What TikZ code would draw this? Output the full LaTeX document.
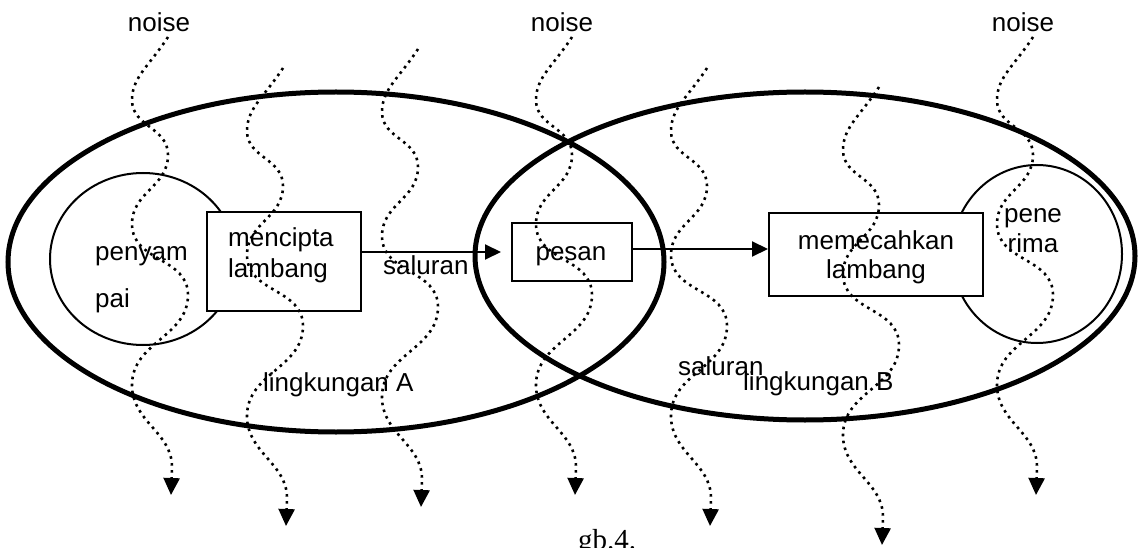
\documentclass[tikz,border=0pt]{standalone}
\usepackage{fontspec}
\setmainfont{Liberation Sans}
\newfontfamily\gbfont{Liberation Serif}
\usetikzlibrary{arrows.meta,shapes.geometric}
\begin{document}
\begin{tikzpicture}[x=1pt,y=-1pt,
  env/.style={draw, ellipse, line width=5pt, inner sep=0pt, outer sep=0pt},
  person/.style={draw, ellipse, line width=2pt, inner sep=0pt, outer sep=0pt},
  stepbox/.style={draw, fill=white, rectangle, line width=2pt, inner sep=0pt},
  lbl/.style={font=\fontsize{26}{30}\selectfont, inner sep=0pt},
  flow/.style={line width=2pt, -{Triangle[length=16pt,width=15pt]}},
  dotline/.style={line width=2.6pt, dash pattern=on 2.6pt off 4.4pt, -{Triangle[length=17pt,width=16pt]}},
  noisewave/.pic={
    \draw[dotline] (0,0) .. controls (-18,28) and (-36,40) .. (-36,63)
      .. controls (-36,90) and (0,90) .. (0,118)
      .. controls (0,150) and (-36,155) .. (-36,187)
      .. controls (-36,225) and (20,220) .. (20,258)
      .. controls (20,300) and (-36,305) .. (-36,348)
      .. controls (-36,385) and (4,395) .. (4,430) -- (3,458);
  }
]
\useasboundingbox (0,0) rectangle (1138,548);

% environments
\node[env, minimum width=656pt, minimum height=340pt] (envA) at (336,262) {};
\node[env, minimum width=660pt, minimum height=328pt] (envB) at (805,256) {};

% sender / receiver
\node[person, minimum width=186pt, minimum height=172pt] (sender) at (143,259) {};
\node[person, minimum width=170pt, minimum height=178pt] (receiver) at (1037,254) {};

% boxes
\node[stepbox, minimum width=154pt, minimum height=99pt] (box1) at (284,261.5) {};
\node[stepbox, minimum width=120pt, minimum height=58pt] (pesan) at (572,252) {};
\node[stepbox, minimum width=214pt, minimum height=83pt] (box3) at (876,254.5) {};

% arrows
\draw[flow, shorten >=10pt] (box1.east |- pesan.west) -- (pesan.west);
\draw[flow] ([yshift=3pt]pesan.east) -- ([yshift=3pt]pesan.east -| box3.west);

% texts
\node[lbl, anchor=base] (noiseA) at (159,32) {noise};
\node[lbl, anchor=base] (noiseB) at (562,32) {noise};
\node[lbl, anchor=base] (noiseC) at (1023,32) {noise};
\node[lbl, anchor=base west] (tpenyam) at (95,260) {penyam};
\node[lbl, anchor=base west] (tpai) at (95,307) {pai};
\node[lbl, anchor=base west] (tmencipta) at (228,247) {mencipta};
\node[lbl, anchor=base west] (tlambangA) at (228,277) {lambang};
\node[lbl, anchor=base west] (tsaluranA) at (383,274) {saluran};
\node[lbl, anchor=base] (tpesan) at (571,260) {pesan};
\node[lbl, anchor=base] (tmemecahkan) at (876,250) {memecahkan};
\node[lbl, anchor=base] (tlambangB) at (876,278) {lambang};
\node[lbl, anchor=base] (tpene) at (1033,223) {pene};
\node[lbl, anchor=base] (trima) at (1033,253) {rima};
\node[lbl, anchor=base west] (tsaluranB) at (678,375) {saluran};
\node[lbl, anchor=base west] (tlingB) at (743,390) {lingkungan B};
\node[lbl, anchor=base west] (tlingA) at (263,391) {lingkungan A};
\node[font=\gbfont\fontsize{29}{34}\selectfont, anchor=base, inner sep=0pt] (caption) at (607,549) {gb.4.};

% noise waves
\pic at (168,37) {noisewave};
\pic at (283,68) {noisewave};
\pic at (418,49) {noisewave};
\pic at (572,37) {noisewave};
\pic at (707,68) {noisewave};
\pic at (879,87) {noisewave};
\pic at (1033,37) {noisewave};
\end{tikzpicture}
\end{document}
